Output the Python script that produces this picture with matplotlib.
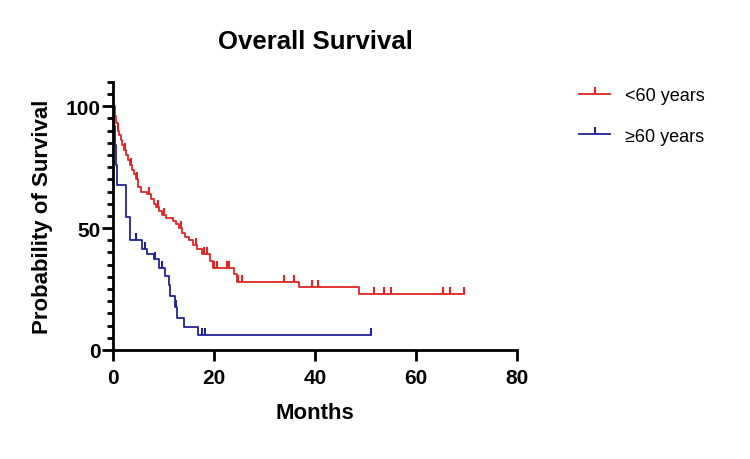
import numpy as np
import matplotlib.pyplot as plt
from matplotlib.markers import TICKUP

plt.rcParams['font.family'] = ['Liberation Sans', 'DejaVu Sans']

# Kaplan-Meier steps (months, % surviving)
red_t = [0, 0.3, 0.6, 0.9, 1.2, 1.5, 1.8, 2.1, 2.5, 2.9, 3.3, 3.7, 4.1, 4.5, 5.0, 5.6,
         6.6, 7.4, 8.0, 8.5, 9.0, 9.6, 10.4, 11.8, 12.5, 13.0, 13.6, 14.3, 15.0, 15.8,
         16.6, 17.5, 19.2, 19.8, 24.0, 24.6, 36.8, 48.7]
red_s = [100, 96, 93, 90, 88, 86, 84, 82, 80, 78, 76, 74, 72, 70, 67, 65,
         64, 62, 60, 58.5, 57, 55.5, 54, 53, 51.5, 50, 48, 46.5, 45, 43,
         41.5, 39.5, 36.5, 33.5, 31, 28, 25.7, 22.9]
red_end = 69.6
red_cens = [1.0, 2.3, 3.5, 4.8, 7.0, 8.8, 10.0, 13.5, 16.5, 18.0, 18.6, 19.9, 20.5,
            22.5, 22.9, 24.8, 25.5, 33.8, 35.8, 39.4, 40.6, 51.6, 53.6, 55.0,
            65.3, 66.7, 69.6]

blue_t = [0, 0.2, 0.4, 0.6, 0.8, 2.6, 3.4, 5.7, 6.7, 8.0, 9.0, 10.3, 11.0, 11.3,
          12.3, 12.6, 14.0, 16.9]
blue_s = [100, 92, 84, 76, 67.5, 54.5, 45, 41.5, 39.5, 37.5, 33.5, 30.5, 26.5, 22,
          17.5, 13, 9.5, 6.3]
blue_end = 51.2
blue_cens = [4.6, 6.3, 8.3, 9.7, 12.5, 17.6, 18.2, 51.2]

red_c = '#e02424'
blue_c = '#22229a'


def surv_at(t, s, x):
    i = np.searchsorted(t, x, side='right') - 1
    return np.array(s)[i]


fig = plt.figure(figsize=(7.5, 4.6), dpi=100)
ax = fig.add_axes([0.151, 0.237, 0.538, 0.583])

for t, s, end, cens, col, lab in [(red_t, red_s, red_end, red_cens, red_c, '<60 years'),
                                  (blue_t, blue_s, blue_end, blue_cens, blue_c, '\u226560 years')]:
    tt = list(t) + [end]
    ss = list(s) + [s[-1]]
    ax.step(tt, ss, where='post', color=col, lw=1.3)
    ax.plot(cens, surv_at(t, s, cens), ls='none', marker=TICKUP, ms=5, mew=1.5, color=col)
    ax.plot([], [], color=col, lw=1.3, marker=TICKUP, ms=5, mew=1.5, label=lab)

ax.set_xlim(0, 80)
ax.set_ylim(0, 110)
ax.set_xticks([0, 20, 40, 60, 80])
ax.set_yticks([0, 50, 100])
ax.set_yticks(np.arange(0, 111, 5), minor=True)
ax.spines['top'].set_visible(False)
ax.spines['right'].set_visible(False)
for sp in ['left', 'bottom']:
    ax.spines[sp].set_linewidth(2)
ax.tick_params(which='major', length=8, width=2, labelsize=15)
ax.tick_params(axis='x', pad=5)
ax.tick_params(axis='y', pad=1)
ax.tick_params(which='minor', length=4.5, width=2)
for lbl in ax.get_xticklabels() + ax.get_yticklabels():
    lbl.set_fontweight('bold')

ax.set_xlabel('Months', fontsize=16, fontweight='bold', labelpad=11)
ax.set_ylabel('Probability of Survival', fontsize=16, fontweight='bold', labelpad=9)
ax.set_title('Overall Survival', fontsize=18.5, fontweight='bold', pad=24)

ax.legend(loc='upper left', bbox_to_anchor=(1.115, 1.04), frameon=False, fontsize=13,
          numpoints=1, handlelength=1.7, labelspacing=1.3)

fig.savefig('out.png', dpi=100)
